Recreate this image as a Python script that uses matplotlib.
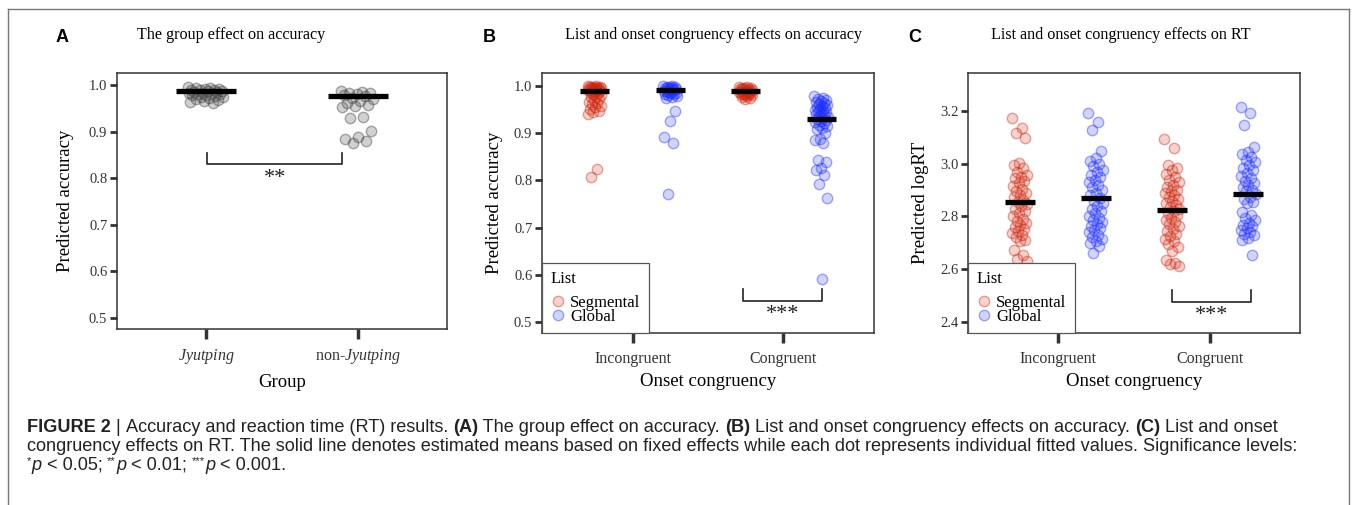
import matplotlib
matplotlib.use('Agg')
import matplotlib.pyplot as plt
from matplotlib.lines import Line2D
from matplotlib.colors import to_rgba
import numpy as np

plt.rcParams['font.family'] = 'serif'
plt.rcParams['font.serif'] = ['Liberation Serif', 'DejaVu Serif']
plt.rcParams['mathtext.fontset'] = 'custom'
plt.rcParams['mathtext.rm'] = 'Liberation Serif'
plt.rcParams['mathtext.it'] = 'Liberation Serif:italic'

# ---------------- data ----------------
groups_a = [r'$\it{Jyutping}$', r'non-$\it{Jyutping}$']
jyut_acc = [0.996, 0.994, 0.993, 0.992, 0.991, 0.990, 0.990, 0.989, 0.988, 0.987,
            0.986, 0.985, 0.984, 0.983, 0.982, 0.981, 0.980, 0.979, 0.978, 0.977,
            0.975, 0.974, 0.972, 0.970, 0.968, 0.966, 0.963, 0.961]
nonjyut_acc = [0.988, 0.985, 0.984, 0.982, 0.980, 0.978, 0.976, 0.973, 0.970, 0.966,
               0.962, 0.958, 0.955, 0.953, 0.932, 0.930, 0.901, 0.888, 0.884, 0.879, 0.876]
means_a = [0.988, 0.977]

onset_cats = ['Incongruent', 'Congruent']
list_names = ['Segmental', 'Global']

seg_incong_acc = [1.000, 0.999, 0.998, 0.998, 0.997, 0.997, 0.996, 0.996, 0.995, 0.995,
                  0.994, 0.993, 0.993, 0.992, 0.991, 0.990, 0.989, 0.988, 0.987, 0.985,
                  0.983, 0.981, 0.979, 0.976, 0.973, 0.970, 0.967, 0.964, 0.961, 0.958,
                  0.955, 0.952, 0.948, 0.944, 0.940, 0.825, 0.808]
glob_incong_acc = [1.000, 0.999, 0.998, 0.998, 0.997, 0.996, 0.996, 0.995, 0.994, 0.993,
                   0.992, 0.991, 0.990, 0.989, 0.988, 0.987, 0.986, 0.985, 0.984, 0.982,
                   0.980, 0.978, 0.976, 0.974, 0.946, 0.926, 0.892, 0.880, 0.772]
seg_cong_acc = [0.998, 0.997, 0.996, 0.995, 0.995, 0.994, 0.993, 0.993, 0.992, 0.991,
                0.990, 0.990, 0.989, 0.988, 0.987, 0.986, 0.985, 0.984, 0.983, 0.982,
                0.981, 0.980, 0.979, 0.977, 0.975, 0.972]
glob_cong_acc = [0.978, 0.975, 0.972, 0.970, 0.968, 0.966, 0.964, 0.962, 0.960, 0.958,
                 0.956, 0.954, 0.952, 0.950, 0.948, 0.946, 0.944, 0.942, 0.940, 0.938,
                 0.936, 0.934, 0.932, 0.930, 0.928, 0.926, 0.924, 0.921, 0.918, 0.915,
                 0.912, 0.908, 0.900, 0.888, 0.885, 0.879, 0.843, 0.840, 0.826, 0.822,
                 0.812, 0.792, 0.762, 0.592]
means_b = {'Segmental': [0.990, 0.989], 'Global': [0.991, 0.929]}

seg_incong_rt = [3.172, 3.135, 3.118, 3.098, 3.002, 2.995, 2.985, 2.968, 2.958, 2.950,
                 2.945, 2.935, 2.925, 2.915, 2.905, 2.898, 2.890, 2.882, 2.872, 2.862,
                 2.855, 2.848, 2.840, 2.830, 2.822, 2.812, 2.800, 2.790, 2.782, 2.775,
                 2.768, 2.760, 2.752, 2.745, 2.738, 2.730, 2.722, 2.712, 2.705, 2.672,
                 2.655, 2.640, 2.632]
glob_incong_rt = [3.192, 3.160, 3.128, 3.050, 3.022, 3.012, 3.000, 2.990, 2.978, 2.968,
                  2.958, 2.948, 2.940, 2.930, 2.920, 2.912, 2.900, 2.890, 2.880, 2.870,
                  2.860, 2.850, 2.840, 2.830, 2.820, 2.812, 2.802, 2.795, 2.788, 2.780,
                  2.772, 2.765, 2.758, 2.750, 2.740, 2.730, 2.722, 2.715, 2.705, 2.698,
                  2.688, 2.660]
seg_cong_rt = [3.092, 3.060, 2.995, 2.985, 2.975, 2.962, 2.950, 2.940, 2.930, 2.920,
               2.910, 2.902, 2.895, 2.888, 2.880, 2.872, 2.865, 2.858, 2.850, 2.842,
               2.835, 2.828, 2.820, 2.812, 2.805, 2.795, 2.788, 2.780, 2.772, 2.762,
               2.752, 2.745, 2.735, 2.725, 2.715, 2.705, 2.695, 2.685, 2.668, 2.635,
               2.625, 2.618, 2.612]
glob_cong_rt = [3.216, 3.192, 3.148, 3.065, 3.045, 3.035, 3.025, 3.015, 3.005, 2.995,
                2.985, 2.975, 2.965, 2.955, 2.945, 2.935, 2.925, 2.918, 2.910, 2.902,
                2.895, 2.885, 2.875, 2.865, 2.855, 2.850, 2.815, 2.805, 2.795, 2.785,
                2.775, 2.768, 2.762, 2.755, 2.748, 2.742, 2.735, 2.728, 2.720, 2.712,
                2.655]
means_c = {'Segmental': [2.856, 2.826], 'Global': [2.869, 2.886]}

acc_ticks = [0.5, 0.6, 0.7, 0.8, 0.9, 1.0]
rt_ticks = [2.4, 2.6, 2.8, 3.0, 3.2]

# ---------------- styling ----------------
W, H = 1357, 505
fig = plt.figure(figsize=(W / 100, H / 100), dpi=100)


def fx(px):
    return px / W


def fy(py):
    return 1 - py / H


def add_axes_px(left, top, right, bottom):
    return fig.add_axes([fx(left), fy(bottom), (right - left) / W, (bottom - top) / H])


RED = '#d0220a'
BLUE = '#1a2cff'
GRAY = '#4a4a4a'
DARK = '#333333'


def jitter(n, w):
    return np.array([((i * 0.6180339887) % 1.0 - 0.5) * 2 * w for i in range(n)])


def dots(ax, xc, vals, color, w, fa=0.2, ea=0.4):
    xs = xc + jitter(len(vals), w)
    ax.scatter(xs, vals, s=56, facecolor=to_rgba(color, fa),
               edgecolor=to_rgba(color, ea), linewidth=1.0, zorder=3)


def mean_bar(ax, xc, m, hw):
    ax.plot([xc - hw, xc + hw], [m, m], color='black', lw=3.8,
            solid_capstyle='butt', zorder=5)


def bracket(ax, x1, x2, ytop, ybot, ystar, stars):
    ax.plot([x1, x1, x2, x2], [ytop, ybot, ybot, ytop], color='#222222', lw=1.2, zorder=4)
    ax.text((x1 + x2) / 2, ystar, stars, ha='center', va='center', fontsize=16, color='#222222')


def style_axes(ax):
    for s in ax.spines.values():
        s.set_color(DARK)
        s.set_linewidth(1.1)
    ax.tick_params(axis='y', direction='out', length=5, width=2, color=DARK,
                   labelsize=10.5, labelcolor=DARK, pad=2)
    ax.tick_params(axis='x', direction='out', length=7, width=2.5, color=DARK,
                   labelsize=11.5, labelcolor=DARK, pad=6)


# ---------------- panel A ----------------
axA = add_axes_px(117, 73, 447, 329)
dots(axA, 1, jyut_acc, GRAY, 0.12, fa=0.25, ea=0.45)
dots(axA, 2, nonjyut_acc, GRAY, 0.11, fa=0.25, ea=0.45)
for i, m in enumerate(means_a):
    mean_bar(axA, i + 1, m, 0.2)
bracket(axA, 1.01, 1.895, 0.854, 0.830, 0.800, '**')
axA.set_xlim(0.415, 2.585)
axA.set_ylim(0.476, 1.026)
axA.set_xticks([1, 2])
axA.set_xticklabels(groups_a)
axA.set_yticks(acc_ticks)
axA.set_yticklabels([f'{t:.1f}' for t in acc_ticks])
style_axes(axA)
axA.set_xlabel('Group', fontsize=13.5, labelpad=6)
axA.set_ylabel('Predicted accuracy', fontsize=13.5, labelpad=11)

# ---------------- panel B ----------------
axB = add_axes_px(542, 73, 874, 333)
dots(axB, 1 - 0.25, seg_incong_acc, RED, 0.045)
dots(axB, 1 + 0.25, glob_incong_acc, BLUE, 0.045)
dots(axB, 2 - 0.25, seg_cong_acc, RED, 0.045)
dots(axB, 2 + 0.25, glob_cong_acc, BLUE, 0.045)
for j in range(2):
    mean_bar(axB, j + 1 - 0.25, means_b['Segmental'][j], 0.096)
    mean_bar(axB, j + 1 + 0.25, means_b['Global'][j], 0.096)
bracket(axB, 1.735, 2.258, 0.570, 0.5445, 0.516, '***')
axB.set_xlim(0.4, 2.6)
axB.set_ylim(0.4767, 1.0275)
axB.set_xticks([1, 2])
axB.set_xticklabels(onset_cats)
axB.set_yticks(acc_ticks)
axB.set_yticklabels([f'{t:.1f}' for t in acc_ticks])
style_axes(axB)
axB.set_xlabel('Onset congruency', fontsize=13.5, labelpad=4)
axB.set_ylabel('Predicted accuracy', fontsize=13.5, labelpad=8)

# ---------------- panel C ----------------
axC = add_axes_px(968, 73, 1300, 333)
dots(axC, 1 - 0.25, seg_incong_rt, RED, 0.05)
dots(axC, 1 + 0.25, glob_incong_rt, BLUE, 0.05)
dots(axC, 2 - 0.25, seg_cong_rt, RED, 0.05)
dots(axC, 2 + 0.25, glob_cong_rt, BLUE, 0.05)
for j in range(2):
    mean_bar(axC, j + 1 - 0.25, means_c['Segmental'][j], 0.1)
    mean_bar(axC, j + 1 + 0.25, means_c['Global'][j], 0.1)
bracket(axC, 1.75, 2.27, 2.521, 2.476, 2.424, '***')
axC.set_xlim(0.41, 2.59)
axC.set_ylim(2.358, 3.344)
axC.set_xticks([1, 2])
axC.set_xticklabels(onset_cats)
axC.set_yticks(rt_ticks)
axC.set_yticklabels([f'{t:.1f}' for t in rt_ticks])
style_axes(axC)
axC.set_xlabel('Onset congruency', fontsize=13.5, labelpad=4)
axC.set_ylabel('Predicted logRT', fontsize=13.5, labelpad=8)

# legends
for ax in (axB, axC):
    handles = [Line2D([], [], marker='o', linestyle='none', markersize=7.5,
                      markerfacecolor=to_rgba(c, 0.2), markeredgecolor=to_rgba(c, 0.4))
               for c in (RED, BLUE)]
    leg = ax.legend(handles, list_names, title='List', loc='lower left',
                    bbox_to_anchor=(0, 0), borderaxespad=0, frameon=True,
                    fancybox=False, edgecolor='#555555', framealpha=1,
                    prop={'size': 12}, title_fontsize=12, handletextpad=0.3,
                    labelspacing=-0.15, borderpad=0.5, handlelength=0.9,
                    alignment='left')
    leg.get_frame().set_linewidth(0.9)
    leg._legend_box.sep = 6
    leg.set_zorder(10)

# panel letters and titles
for px, letter in [(62, 'A'), (489, 'B'), (915, 'C')]:
    fig.text(fx(px), fy(37), letter, fontsize=13, fontweight='bold',
             family='Liberation Sans', ha='center', va='center')
for px, title in [(231, 'The group effect on accuracy'),
                  (713, 'List and onset congruency effects on accuracy'),
                  (1121, 'List and onset congruency effects on RT')]:
    fig.text(fx(px), fy(35), title, fontsize=11.6, ha='center', va='center')

# outer frame
fig.add_artist(Line2D([fx(8), fx(8)], [fy(9), 0], transform=fig.transFigure,
                      color='#777777', lw=1))
fig.add_artist(Line2D([fx(1349), fx(1349)], [fy(9), 0], transform=fig.transFigure,
                      color='#777777', lw=1))
fig.add_artist(Line2D([fx(8), fx(1349)], [fy(9), fy(9)], transform=fig.transFigure,
                      color='#777777', lw=1))

# caption
renderer = fig.canvas.get_renderer()
CAP = 13.1
CAPC = '#222222'


def caption_line(pieces, x0, ybase):
    x = x0
    for txt, kind in pieces:
        kw = dict(family='Liberation Sans', color=CAPC, va='baseline', ha='left')
        y = ybase
        size = CAP
        if kind == 'b':
            kw['fontweight'] = 'bold'
        elif kind == 'i':
            kw['style'] = 'italic'
        elif kind == 's':
            size = CAP * 0.62
            y = ybase - 6
        t = fig.text(fx(x), fy(y), txt, fontsize=size, **kw)
        x += t.get_window_extent(renderer).width


caption_line([('FIGURE 2', 'b'), (' | ', 'n'),
              ('Accuracy and reaction time (RT) results. ', 'n'), ('(A)', 'b'),
              (' The group effect on accuracy. ', 'n'), ('(B)', 'b'),
              (' List and onset congruency effects on accuracy. ', 'n'), ('(C)', 'b'),
              (' List and onset', 'n')], 27, 432)
caption_line([('congruency effects on RT. The solid line denotes estimated means based on fixed '
               'effects while each dot represents individual fitted values. Significance levels:', 'n')],
             27, 451)
caption_line([('*', 's'), ('p', 'i'), (' < 0.05; ', 'n'), ('**', 's'), ('p', 'i'),
              (' < 0.01; ', 'n'), ('***', 's'), ('p', 'i'), (' < 0.001.', 'n')], 27, 470)

fig.savefig('out.png', dpi=100)
